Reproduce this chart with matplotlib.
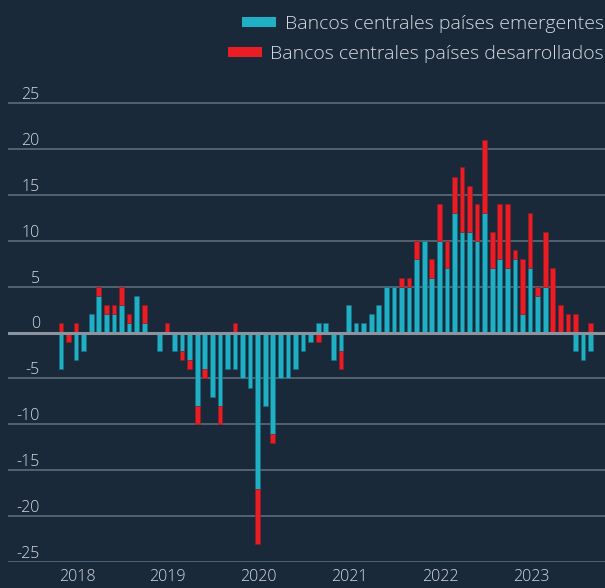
import numpy as np
import matplotlib.pyplot as plt
from matplotlib.patches import Patch

# Monthly data, Jan 2018 - Nov 2023
em = [-4, 0, -3, -2, 2, 4, 2, 2, 3, 1, 4, 1,            # 2018
      0, -2, 0, -2, -2, -3, -8, -4, -7, -8, -4, -4,     # 2019
      -5, -6, -17, -8, -11, -5, -5, -4, -2, -1, 1, 1,   # 2020
      -3, -2, 3, 1, 1, 2, 3, 5, 5, 5, 5, 8,             # 2021
      10, 6, 10, 7, 13, 11, 11, 10, 13, 7, 8, 7,        # 2022
      8, 2, 7, 4, 5, 0, 0, 0, -2, -3, -2]               # 2023
dm = [1, -1, 1, 0, 0, 1, 1, 1, 2, 1, 0, 2,
      0, 0, 1, 0, -1, -1, -2, -1, 0, -2, 0, 1,
      0, 0, -6, 0, -1, 0, 0, 0, 0, 0, -1, 0,
      0, -2, 0, 0, 0, 0, 0, 0, 0, 1, 1, 2,
      0, 2, 4, 3, 4, 7, 5, 4, 8, 4, 6, 7,
      1, 6, 6, 1, 6, 7, 3, 2, 2, 0, 1]
years = ["2018", "2019", "2020", "2021", "2022", "2023"]
yticks = [25, 20, 15, 10, 5, 0, -5, -10, -15, -20, -25]
labels = ["Bancos centrales países emergentes", "Bancos centrales países desarrollados"]

bg = "#1a293a"
teal = "#1fb0c5"
red = "#ea1c24"
txt = "#d6dadf"
grid = "#5d6c7a"

plt.rcParams['font.family'] = ['Open Sans', 'DejaVu Sans']
plt.rcParams['font.weight'] = 'light'

em = np.array(em)
dm = np.array(dm)
x = np.arange(len(em))
# stack red on teal when same sign, otherwise start at zero
bottom = np.where(np.sign(dm) == np.sign(em), em, 0)

fig = plt.figure(figsize=(6.05, 5.88), dpi=100, facecolor=bg)
ax = fig.add_axes([8 / 605, 26 / 588, 597 / 605, 468 / 588])
ax.set_facecolor(bg)

ax.bar(x, em, width=0.62, color=teal, edgecolor="#176f80", linewidth=0.4, zorder=2)
ax.bar(x, dm, bottom=bottom, width=0.62, color=red, edgecolor="#9a1a22", linewidth=0.4, zorder=2)

for v in yticks:
    if v == 0:
        ax.axhline(v, color="#8a949e", lw=2.2, zorder=3)
    else:
        ax.axhline(v, color=grid, lw=1.2, zorder=1)
    ax.text(-2.8, v + 0.45, str(v), ha="right", va="baseline", color=txt, fontsize=11.5)

ax.set_xlim(-7, 71.9)
ax.set_ylim(-25, 26)
ax.set_yticks([])
ax.set_xticks([i * 12 - 0.3 for i in range(len(years))])
ax.set_xticklabels(years, ha="left", color=txt, fontsize=11.5)
ax.tick_params(axis="x", length=0, pad=5)
for s in ax.spines.values():
    s.set_visible(False)

# legend, right aligned
for i, c in enumerate([teal, red]):
    fig.legend(handles=[Patch(facecolor=c, linewidth=0)], labels=[labels[i]], loc="center right",
               bbox_to_anchor=(604 / 605, 1 - (24 + 30 * i) / 588), frameon=False, fontsize=14,
               labelcolor=txt, handlelength=1.75, handleheight=0.35, handletextpad=0.45,
               borderpad=0, borderaxespad=0)

fig.savefig("out.png", dpi=100, facecolor=bg)
